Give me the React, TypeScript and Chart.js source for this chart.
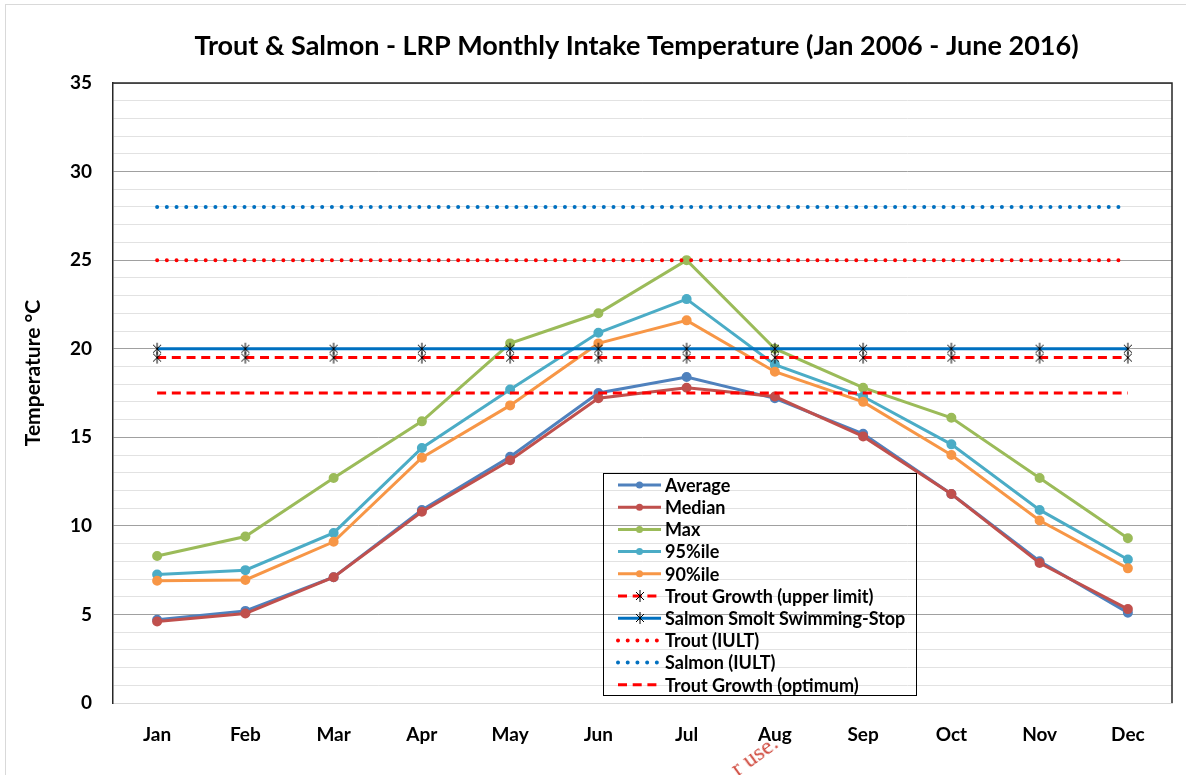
import React, { useEffect, useRef } from 'react';
import { Chart, registerables } from 'chart.js';

Chart.register(...registerables);

const FONT = 'Lato, "Open Sans", "DejaVu Sans", sans-serif';

const TITLE = 'Trout & Salmon - LRP Monthly Intake Temperature (Jan 2006 - June 2016)';
const Y_TITLE = 'Temperature °C';

const months = ['Jan', 'Feb', 'Mar', 'Apr', 'May', 'Jun', 'Jul', 'Aug', 'Sep', 'Oct', 'Nov', 'Dec'];

const average = [4.7, 5.2, 7.1, 10.9, 13.9, 17.5, 18.4, 17.2, 15.2, 11.8, 8.0, 5.1];
const median = [4.6, 5.05, 7.1, 10.8, 13.7, 17.2, 17.8, 17.3, 15.05, 11.8, 7.9, 5.3];
const maxTemp = [8.3, 9.4, 12.7, 15.9, 20.3, 22.0, 25.0, 20.0, 17.8, 16.1, 12.7, 9.3];
const pct95 = [7.25, 7.5, 9.6, 14.4, 17.7, 20.9, 22.8, 19.1, 17.3, 14.6, 10.9, 8.1];
const pct90 = [6.9, 6.95, 9.1, 13.85, 16.8, 20.3, 21.6, 18.7, 17.0, 14.0, 10.3, 7.6];

const troutGrowthUpper = [19.5, 19.5, 19.5, 19.5, 19.5, 19.5, 19.5, 19.5, 19.5, 19.5, 19.5, 19.5];
const salmonSmoltStop = [20, 20, 20, 20, 20, 20, 20, 20, 20, 20, 20, 20];
const troutIULT = [25, 25, 25, 25, 25, 25, 25, 25, 25, 25, 25, 25];
const salmonIULT = [28, 28, 28, 28, 28, 28, 28, 28, 28, 28, 28, 28];
const troutGrowthOptimum = [17.5, 17.5, 17.5, 17.5, 17.5, 17.5, 17.5, 17.5, 17.5, 17.5, 17.5, 17.5];

const yTickValues = [0, 5, 10, 15, 20, 25, 30, 35];

function makeAsterisk(): HTMLCanvasElement {
  const c = document.createElement('canvas');
  c.width = 12;
  c.height = 14;
  const g = c.getContext('2d')!;
  g.strokeStyle = '#000';
  g.lineWidth = 1;
  g.beginPath();
  g.moveTo(6, 1);
  g.lineTo(6, 13);
  g.moveTo(2, 3);
  g.lineTo(10, 11);
  g.moveTo(10, 3);
  g.lineTo(2, 11);
  g.stroke();
  return c;
}

function dataSeries(label: string, data: number[], color: string, i: number) {
  return {
    label,
    data,
    borderColor: color,
    backgroundColor: color,
    pointBackgroundColor: color,
    pointBorderColor: color,
    borderWidth: 3,
    pointRadius: 3.5,
    pointStyle: 'circle',
    tension: 0,
    order: 20 - i,
  };
}

const overlayPlugin = {
  id: 'overlay',
  afterDraw(chart: any) {
    const { ctx, chartArea } = chart;
    ctx.save();
    ctx.strokeStyle = '#262626';
    ctx.lineWidth = 1.5;
    ctx.setLineDash([]);
    ctx.beginPath();
    ctx.moveTo(chartArea.left, chartArea.top);
    ctx.lineTo(chartArea.right, chartArea.top);
    ctx.lineTo(chartArea.right, chartArea.bottom);
    ctx.stroke();

    ctx.fillStyle = '#000';
    ctx.font = `bold 27px ${FONT}`;
    ctx.textAlign = 'center';
    ctx.textBaseline = 'middle';
    ctx.fillText(TITLE, (chartArea.left + chartArea.right) / 2 - 6, 46);

    ctx.save();
    ctx.translate(33, (chartArea.top + chartArea.bottom) / 2 - 20);
    ctx.rotate(-Math.PI / 2);
    ctx.font = `bold 21px ${FONT}`;
    ctx.fillText(Y_TITLE, 0, 0);
    ctx.restore();

    const bx = chartArea.left + 490;
    const by = chartArea.top + 390;
    const bw = 313;
    const bh = 222;
    ctx.strokeStyle = '#000';
    ctx.lineWidth = 1;
    ctx.strokeRect(bx + 0.5, by + 0.5, bw, bh);
    chart.data.datasets.forEach((ds: any, i: number) => {
      const cy = by + 12 + i * 22.2;
      const x0 = bx + 15;
      const x1 = bx + 58;
      const xm = (x0 + x1) / 2;
      ctx.beginPath();
      ctx.setLineDash(ds.borderDash || []);
      ctx.lineCap = ds.borderCapStyle || 'butt';
      ctx.strokeStyle = ds.borderColor;
      ctx.lineWidth = ds.borderWidth;
      ctx.moveTo(x0, cy);
      ctx.lineTo(x1, cy);
      ctx.stroke();
      ctx.setLineDash([]);
      ctx.lineCap = 'butt';
      if (ds.pointRadius > 0) {
        if (ds.pointStyle instanceof HTMLCanvasElement) {
          const img = ds.pointStyle;
          ctx.drawImage(img, Math.round(xm - img.width / 2), Math.round(cy - img.height / 2));
        } else {
          ctx.fillStyle = ds.pointBackgroundColor;
          ctx.beginPath();
          ctx.arc(xm, cy, ds.pointRadius, 0, Math.PI * 2);
          ctx.fill();
        }
      }
      ctx.fillStyle = '#000';
      ctx.font = `bold 18px ${FONT}`;
      ctx.textAlign = 'left';
      ctx.textBaseline = 'middle';
      ctx.fillText(ds.label, bx + 62, cy + 1);
    });
    ctx.restore();
  },
};

export default function App() {
  const canvasRef = useRef<HTMLCanvasElement | null>(null);

  useEffect(() => {
    document.body.style.margin = '0';
    const canvas = canvasRef.current;
    if (!canvas) return;
    const asterisk = makeAsterisk();
    const chart = new Chart(canvas, {
      type: 'line',
      data: {
        labels: months,
        datasets: [
          dataSeries('Average', average, '#4F81BD', 0),
          dataSeries('Median', median, '#C0504D', 1),
          dataSeries('Max', maxTemp, '#9BBB59', 2),
          dataSeries('95%ile', pct95, '#4BACC6', 3),
          dataSeries('90%ile', pct90, '#F79646', 4),
          {
            label: 'Trout Growth (upper limit)',
            data: troutGrowthUpper,
            borderColor: '#FF0000',
            backgroundColor: '#FF0000',
            borderWidth: 3,
            borderDash: [9, 5.7],
            pointStyle: asterisk,
            pointRadius: 6,
            order: 15,
          },
          {
            label: 'Salmon Smolt Swimming-Stop',
            data: salmonSmoltStop,
            borderColor: '#0070C0',
            backgroundColor: '#0070C0',
            borderWidth: 3,
            pointStyle: asterisk,
            pointRadius: 6,
            order: 14,
          },
          {
            label: 'Trout (IULT)',
            data: troutIULT,
            borderColor: '#FF0000',
            backgroundColor: '#FF0000',
            borderWidth: 4,
            borderDash: [0.01, 9.7],
            borderCapStyle: 'round',
            pointRadius: 0,
            order: 13,
          },
          {
            label: 'Salmon (IULT)',
            data: salmonIULT,
            borderColor: '#0070C0',
            backgroundColor: '#0070C0',
            borderWidth: 4,
            borderDash: [0.01, 9.7],
            borderCapStyle: 'round',
            pointRadius: 0,
            order: 12,
          },
          {
            label: 'Trout Growth (optimum)',
            data: troutGrowthOptimum,
            borderColor: '#FF0000',
            backgroundColor: '#FF0000',
            borderWidth: 3,
            borderDash: [9, 5.7],
            pointRadius: 0,
            order: 11,
          },
        ] as any,
      },
      options: {
        animation: false,
        responsive: false,
        devicePixelRatio: 1,
        layout: { padding: { top: 83, right: 14, left: 0, bottom: 0 } },
        plugins: {
          legend: { display: false },
          title: { display: false },
          tooltip: { enabled: false },
        },
        scales: {
          x: {
            offset: true,
            grid: { display: false, drawTicks: false },
            border: { display: true, color: '#d9d9d9', width: 1 },
            ticks: {
              color: '#000',
              font: { family: FONT, size: 19, weight: 'bold' },
              padding: 20,
            },
            afterFit(scale: any) {
              scale.height = 72;
            },
          },
          y: {
            min: 0,
            max: 35,
            ticks: {
              stepSize: 1,
              autoSkip: false,
              color: '#000',
              font: { family: FONT, size: 19, weight: 'bold' },
              padding: 21,
              callback: (v: any) => (yTickValues.includes(Number(v)) ? String(v) : ''),
            },
            grid: {
              drawTicks: false,
              lineWidth: 1,
              color: (c: any) => {
                const v = c.tick ? c.tick.value : 0;
                if (v === 0) return '#d9d9d9';
                return v % 5 === 0 ? '#a0a0a0' : '#e2e2e2';
              },
            },
            border: { display: true, color: '#262626', width: 1.5 },
            afterFit(scale: any) {
              scale.width = 113;
            },
          },
        },
      } as any,
      plugins: [overlayPlugin],
    });
    return () => chart.destroy();
  }, []);

  return (
    <div style={{ position: 'relative', width: 1186, height: 775, overflow: 'hidden', background: '#fff' }}>
      <div
        style={{
          position: 'absolute',
          left: 5,
          top: 4,
          width: 1200,
          height: 800,
          borderLeft: '1px solid #d9d9d9',
          borderTop: '1px solid #d9d9d9',
          boxSizing: 'border-box',
        }}
      />
      <canvas ref={canvasRef} width={1186} height={775} style={{ position: 'absolute', left: 0, top: 0, display: 'block' }} />
      <span
        style={{
          position: 'absolute',
          left: 740,
          top: 756,
          color: '#d04a3e',
          fontFamily: '"Liberation Serif", serif',
          fontSize: 24,
          lineHeight: '24px',
          transform: 'rotate(-36deg)',
          transformOrigin: 'left bottom',
          whiteSpace: 'nowrap',
        }}
      >
        r use.
      </span>
    </div>
  );
}
